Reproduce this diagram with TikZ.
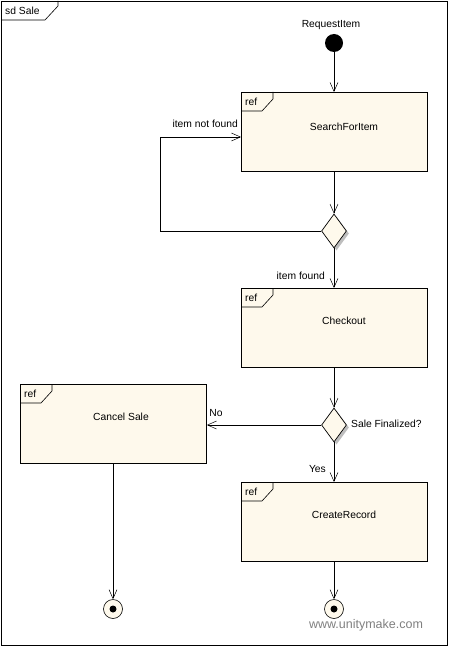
\documentclass[tikz,border=0pt]{standalone}
\usepackage{fontspec}
\setmainfont{Liberation Sans}
\usetikzlibrary{arrows.meta,shapes.geometric}
\definecolor{boxfill}{RGB}{254,249,236}
\definecolor{shade}{RGB}{190,190,190}
\tikzset{
  x=1pt,y=-1pt,
  every node/.style={font=\fontsize{10.3}{12}\selectfont},
  refbox/.style={draw,line width=0.9pt,fill=boxfill,minimum width=186pt,minimum height=79pt,inner sep=0pt,anchor=north west},
  lbl/.style={inner sep=1pt},
  decision/.style={diamond,draw,line width=0.7pt,fill=boxfill,minimum width=25pt,minimum height=34pt,inner sep=0pt,aspect=0.7},
  flow/.style={draw,line width=0.7pt,-{Straight Barb[length=9pt,width=8pt,line width=0.5pt]}},
  plain/.style={draw,line width=0.7pt},
  final/.style={circle,draw,line width=0.6pt,fill=boxfill,minimum size=19pt,inner sep=0pt}
}
\newcommand{\reftab}[1]{%
  \draw[line width=0.6pt] ([xshift=32pt]#1.north west) -- ([xshift=32pt,yshift=-7pt]#1.north west) -- ([xshift=21pt,yshift=-19pt]#1.north west) -- ([yshift=-19pt]#1.north west);
  \node[lbl,anchor=west] (#1ref) at ([xshift=3pt,yshift=-10pt]#1.north west) {ref};}
\begin{document}
\begin{tikzpicture}
\useasboundingbox (0,0) rectangle (449,647);
\fill[white] (0,0) rectangle (449,647);
% frame
\draw[line width=0.8pt] (1,1) rectangle (447,645);
\draw[line width=0.6pt] (58,1) -- (58,6) -- (45,20) -- (1,20);
\node[lbl,anchor=west] (title) at (4,11) {sd Sale};

% initial node
\node[circle,fill=black,minimum size=18pt,inner sep=0pt] (start) at (334,43) {};
\node[lbl] (startlbl) at (331,25) {RequestItem};

% boxes
\node[refbox] (search) at (241,92) {};
\reftab{search}
\node[lbl] (searchlbl) at (344,127) {SearchForItem};

\node[refbox] (checkout) at (241,288) {};
\reftab{checkout}
\node[lbl] (checkoutlbl) at (344,321) {Checkout};

\node[refbox] (cancel) at (20,384) {};
\reftab{cancel}
\node[lbl] (cancellbl) at (121,417) {Cancel Sale};

\node[refbox] (create) at (241,482) {};
\reftab{create}
\node[lbl] (createlbl) at (344,515) {CreateRecord};

% decisions
\node[decision,fill=shade,draw=none] (d1s) at (336.5,233.5) {};
\node[decision] (d1) at (334,231) {};
\node[decision,fill=shade,draw=none] (d2s) at (336.5,427.5) {};
\node[decision] (d2) at (334,425) {};
\node[lbl,anchor=west] (d2lbl) at (350,424) {Sale Finalized?};

% final nodes
\node[final] (end1) at (113,609) {};
\fill (end1) circle (3.5pt);
\node[final] (end2) at (334,609) {};
\fill (end2) circle (3.5pt);

% coordinates for loop
\coordinate (c1) at (160,231);
\coordinate (c2) at (160,137);
\coordinate (c3) at (241,137);

% connectors
\path[flow] (start) -- (search.north -| start);
\path[flow] (search.south -| d1) -- (d1.north);
\path[plain] (d1.west) -- (c1) -- (c2);
\path[flow] (c2) -- (c3);
\node[lbl,anchor=east] (notfound) at (239,124) {item not found};
\path[flow] (d1.south) -- (checkout.north -| d1);
\node[lbl,anchor=east] (found) at (326,276) {item found};
\path[flow] (checkout.south -| d2) -- (d2.north);
\path[flow] (d2.west) -- (cancel.east |- d2);
\node[lbl] (no) at (216,413) {No};
\path[flow] (d2.south) -- (create.north -| d2);
\node[lbl,anchor=east] (yes) at (327,469) {Yes};
\path[flow] (cancel.south -| end1) -- (end1.north);
\path[flow] (create.south -| end2) -- (end2.north);

% watermark
\node[lbl,text=gray,font=\fontsize{12.5}{14}\selectfont] (wm) at (366,625) {www.unitymake.com};
\end{tikzpicture}
\end{document}
